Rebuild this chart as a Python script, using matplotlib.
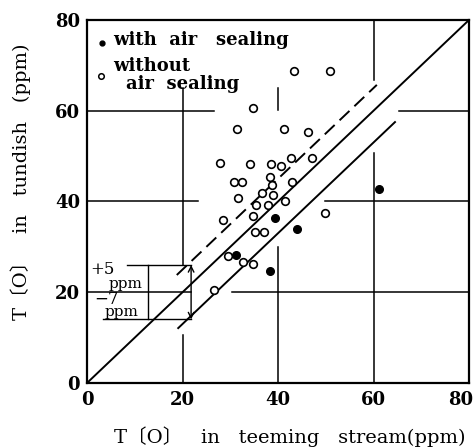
import numpy as np
from matplotlib import pyplot as plt
from matplotlib import transforms

# T[O] values (ppm)
open_x = [43.4, 50.9, 34.7, 31.5, 41.3, 46.3, 27.9, 34.1, 38.5, 40.6, 42.7, 47.2,
          38.3, 38.8, 30.8, 32.5, 42.9, 36.7, 39.0, 31.6, 35.3, 38.0, 41.5, 34.8,
          28.5, 49.8, 35.2, 37.1, 29.5, 32.6, 34.8, 26.5]
open_y = [68.8, 68.7, 60.5, 55.9, 56.0, 55.4, 48.4, 48.3, 48.3, 47.9, 49.6, 49.6,
          45.4, 43.6, 44.2, 44.3, 44.3, 41.9, 41.4, 40.8, 39.2, 39.2, 40.1, 36.9,
          35.9, 37.4, 33.3, 33.2, 28.0, 26.6, 26.2, 20.6]
fill_x = [61.2, 39.4, 44.0, 31.2, 38.3]
fill_y = [42.7, 36.4, 34.0, 28.2, 24.7]

upper_off = 5     # +5 ppm
lower_off = -7    # -7 ppm
ticks = [0, 20, 40, 60, 80]

serif = ['DejaVu Serif', 'Noto Sans CJK JP']

fig = plt.figure(figsize=(4.76, 4.48), dpi=100)
ax = fig.add_axes([0.1828, 0.1451, 0.8025, 0.8103])
ax.set_xlim(0, 80)
ax.set_ylim(0, 80)
for s in ax.spines.values():
    s.set_linewidth(1.6)

# broken grid lines like the original
hseg = [(60, 0, 26.5), (60, 65.4, 80), (40, 0, 23.3), (40, 49.8, 80), (20, 0, 21.8), (20, 30.3, 80)]
vseg = [(20, 26.0, 64.9), (20, 0, 10.6), (40, 60.1, 64.9), (40, 0, 30.0), (60, 66.7, 80), (60, 0, 50.6)]
for y, a, b in hseg:
    ax.plot([a, b], [y, y], color='black', lw=1.1)
for x, a, b in vseg:
    ax.plot([x, x], [a, b], color='black', lw=1.1)

# 1:1 line and the +5 / -7 ppm band
d = np.array([0, 80])
ax.plot(d, d, color='black', lw=1.4)
du = np.array([18.8, 60.7])
ax.plot(du, du + upper_off, color='black', lw=1.4, dashes=(7, 3.5))
dl = np.array([19.1, 64.5])
ax.plot(dl, dl + lower_off, color='black', lw=1.4)

ax.plot(open_x, open_y, 'o', mfc='white', mec='black', mew=1.2, ms=5.5, ls='none')
ax.plot(fill_x, fill_y, 'o', color='black', ms=5.5, ls='none')

# band annotation
ax.plot([8.3, 21.8], [26, 26], color='black', lw=1.0)
ax.plot([3.4, 21.8], [14, 14], color='black', lw=1.0)
ax.plot([12.8, 12.8], [14, 26], color='black', lw=1.0)
ax.annotate('', xy=(21.8, 14), xytext=(21.8, 26),
            arrowprops=dict(arrowstyle='<->', color='black', lw=1.0, shrinkA=0, shrinkB=0))
ax.text(0.6, 25.0, '+5', fontsize=12, family=serif, va='center')
ax.text(4.5, 21.9, 'ppm', fontsize=11, family=serif, va='center')
ax.text(1.5, 18.4, '\u22127', fontsize=12, family=serif, va='center')
ax.text(3.6, 15.6, 'ppm', fontsize=11, family=serif, va='center')

# legend written as text
ax.plot([3.1], [74.9], 'o', color='black', ms=3.5)
ax.text(5.5, 75.5, 'with  air   sealing', fontsize=13, family=serif, weight='bold', va='center')
ax.plot([3.0], [67.6], 'o', mfc='white', mec='black', mew=1.1, ms=4)
ax.text(5.5, 69.8, 'without', fontsize=13, family=serif, weight='bold', va='center')
ax.text(8.2, 66.0, 'air  sealing', fontsize=13, family=serif, weight='bold', va='center')

ax.set_xticks(ticks)
ax.set_yticks(ticks)
ax.set_xticklabels([str(t) for t in ticks], fontsize=13, family=serif, weight='bold')
ax.set_yticklabels([str(t) for t in ticks], fontsize=13, family=serif, weight='bold')
ax.tick_params(length=0, pad=5)
ax.tick_params(axis='x', pad=6)
last = ax.get_xticklabels()[-1]
last.set_transform(last.get_transform() + transforms.ScaledTranslation(-8 / 100, 0, fig.dpi_scale_trans))

ax.set_xlabel('T\u3014O\u3015   in   teeming   stream(ppm)', fontsize=14, family=serif)
ax.set_ylabel('T\u3014O\u3015   in   tundish   (ppm)', fontsize=14, family=serif)
ax.xaxis.set_label_coords(0.531, -0.118)
ax.yaxis.set_label_coords(-0.147, 0.554)

fig.savefig('out.png', dpi=100)
